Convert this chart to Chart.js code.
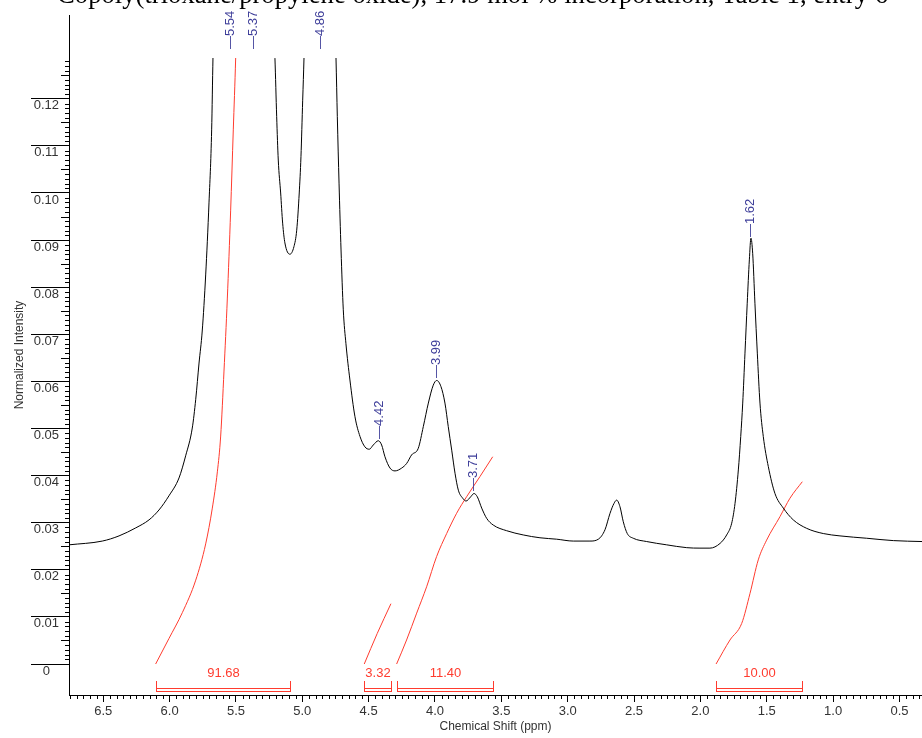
<!DOCTYPE html>
<html>
<head>
<meta charset="utf-8">
<script src="https://cdn.jsdelivr.net/npm/chart.js@4"></script>
<style>
  html, body { margin: 0; padding: 0; background: #fff; }
  #wrap { width: 922px; height: 738px; position: relative; }
</style>
</head>
<body>
<div id="wrap"><canvas id="nmr"></canvas></div>
<script>
// 1H spectrum: chemical shift (ppm) and normalized intensity
const shiftPpm = [
  6.758, 6.507, 6.381, 6.255, 6.155, 6.080, 6.005, 5.929, 5.879, 5.829,
  5.803, 5.778, 5.754, 5.728, 5.703, 5.683, 5.673, 5.650, 5.600, 5.540,
  5.450, 5.370, 5.300, 5.250, 5.206, 5.193, 5.181, 5.163, 5.148, 5.131,
  5.093, 5.063, 5.042, 5.023, 5.010, 4.997, 4.987, 4.950, 4.900, 4.860,
  4.820, 4.780, 4.746, 4.736, 4.723, 4.708, 4.691, 4.671, 4.641, 4.603,
  4.565, 4.528, 4.495, 4.465, 4.427, 4.402, 4.377, 4.339, 4.301, 4.251,
  4.213, 4.176, 4.126, 4.088, 4.050, 4.013, 3.987, 3.955, 3.925, 3.900,
  3.874, 3.849, 3.824, 3.791, 3.766, 3.731, 3.706, 3.681, 3.648, 3.610,
  3.561, 3.460, 3.335, 3.209, 3.083, 2.958, 2.832, 2.769, 2.719, 2.681,
  2.651, 2.631, 2.606, 2.581, 2.551, 2.506, 2.405, 2.254, 2.103, 2.003,
  1.928, 1.852, 1.802, 1.764, 1.739, 1.714, 1.696, 1.681, 1.664, 1.647,
  1.631, 1.619, 1.606, 1.589, 1.571, 1.551, 1.526, 1.488, 1.438, 1.375,
  1.300, 1.199, 1.074, 0.948, 0.747, 0.546, 0.330
];
const intensity = [
  0.0253, 0.0261, 0.0272, 0.0289, 0.0306, 0.0327, 0.0357, 0.0395, 0.0442, 0.0501,
  0.0562, 0.0639, 0.0707, 0.0826, 0.0979, 0.1134, 0.1287, 0.155, 0.230, 0.330,
  0.290, 0.305, 0.220, 0.160, 0.1286, 0.1162, 0.1070, 0.1000, 0.0936, 0.0894,
  0.0870, 0.0886, 0.0921, 0.1000, 0.1077, 0.1197, 0.1287, 0.170, 0.240, 0.270,
  0.230, 0.165, 0.1287, 0.1162, 0.1021, 0.0879, 0.0752, 0.0680, 0.0603, 0.0525,
  0.0483, 0.0461, 0.0456, 0.0465, 0.0474, 0.0465, 0.0440, 0.0416, 0.0410, 0.0416,
  0.0426, 0.0444, 0.0458, 0.0504, 0.0554, 0.0592, 0.0602, 0.0589, 0.0554, 0.0504,
  0.0454, 0.0405, 0.0369, 0.0352, 0.0346, 0.0355, 0.0362, 0.0355, 0.0331, 0.0309,
  0.0295, 0.0283, 0.0274, 0.0268, 0.0265, 0.0261, 0.0261, 0.0265, 0.0285, 0.0320,
  0.0341, 0.0348, 0.0334, 0.0302, 0.0277, 0.0267, 0.0260, 0.0253, 0.0247, 0.0246,
  0.0246, 0.0256, 0.0274, 0.0299, 0.0341, 0.0412, 0.0483, 0.0554, 0.0660, 0.0766,
  0.0858, 0.0904, 0.0872, 0.0766, 0.0660, 0.0554, 0.0483, 0.0419, 0.0362, 0.0331,
  0.0306, 0.0288, 0.0277, 0.0272, 0.0267, 0.0262, 0.0260
];

// integral curves (same y units as the spectrum)
const int1Ppm = [6.105, 6.005, 5.904, 5.803, 5.728, 5.678, 5.640, 5.615, 5.590, 5.565, 5.540, 5.520, 5.502, 5.450, 5.350, 5.200, 5.093];
const int1Val = [0, 0.0054, 0.0109, 0.0178, 0.0255, 0.0331, 0.0408, 0.0484, 0.0622, 0.0775, 0.0962, 0.1134, 0.1287, 0.190, 0.270, 0.330, 0.354];
const int2Ppm = [4.533, 4.435, 4.332];
const int2Val = [0, 0.0065, 0.0128];
const int3Ppm = [4.289, 4.214, 4.138, 4.063, 3.988, 3.912, 3.837, 3.762, 3.661, 3.565];
const int3Val = [0, 0.0051, 0.0108, 0.0164, 0.0228, 0.0277, 0.0320, 0.0355, 0.0398, 0.0440];
const int4Ppm = [1.882, 1.777, 1.689, 1.626, 1.564, 1.501, 1.400, 1.325, 1.232];
const int4Val = [0, 0.0051, 0.0086, 0.0150, 0.0221, 0.0263, 0.0313, 0.0352, 0.0387];

const integralRanges = [[6.105, 5.093], [4.533, 4.332], [4.289, 3.565], [1.882, 1.232]];
const integralLabels = ["91.68", "3.32", "11.40", "10.00"];

const peakPpm = [5.54, 5.37, 4.86, 4.42, 3.99, 3.71, 1.62];
const peakLabels = ["5.54", "5.37", "4.86", "4.42", "3.99", "3.71", "1.62"];

const xMajorTicks = [0.5, 1.0, 1.5, 2.0, 2.5, 3.0, 3.5, 4.0, 4.5, 5.0, 5.5, 6.0, 6.5];
const yMajorTicks = [0, 0.01, 0.02, 0.03, 0.04, 0.05, 0.06, 0.07, 0.08, 0.09, 0.10, 0.11, 0.12];

const titleText = "Copoly(trioxane/propylene oxide), 17.9 mol % incorporation, Table 1, entry 6";

const SANS = '"Liberation Sans", Arial, sans-serif';
const RED = "#ff3b2e";
const pts = (xs, ys) => xs.map((p, i) => ({ x: p, y: ys[i] }));
const clipTop = { left: 0, top: -43, right: 0, bottom: 0 };

// intensity at a shift, for placing the peak labels
function valueAt(p) {
  for (let i = 0; i < shiftPpm.length - 1; i++) {
    const a = shiftPpm[i], b = shiftPpm[i + 1];
    if (p <= a && p >= b) return intensity[i] + (intensity[i + 1] - intensity[i]) * (a - p) / (a - b);
  }
  return 0;
}

const extras = {
  id: "extras",
  afterDraw(chart) {
    const { ctx, chartArea: area, scales: { x, y } } = chart;
    ctx.save();

    // minor ticks
    ctx.strokeStyle = "#000";
    ctx.lineWidth = 1;
    ctx.beginPath();
    for (let i = 1; i <= 128; i++) {
      if (i % 10 === 0) continue;
      const len = i % 5 === 0 ? 8 : 4;
      const py = Math.round(y.getPixelForValue(i / 1000)) + 0.5;
      ctx.moveTo(area.left - len, py);
      ctx.lineTo(area.left, py);
    }
    for (let i = 7; i <= 135; i++) {
      if (i % 10 === 0) continue;
      const px = Math.round(x.getPixelForValue(i * 0.05)) + 0.5;
      ctx.moveTo(px, area.bottom);
      ctx.lineTo(px, area.bottom + 4);
    }
    ctx.stroke();

    // peak picks (clipped peaks get their label just above the clip line)
    ctx.font = "13px " + SANS;
    ctx.fillStyle = "#3d3d99";
    ctx.textAlign = "left";
    ctx.textBaseline = "middle";
    peakPpm.forEach((p, i) => {
      const px = x.getPixelForValue(p);
      const py = Math.max(y.getPixelForValue(valueAt(p)) - 3, 49);
      ctx.save();
      ctx.translate(px, py);
      ctx.rotate(-Math.PI / 2);
      ctx.fillText("\u2014" + peakLabels[i], 0, 0);
      ctx.restore();
    });

    // integral brackets
    const base = y.getPixelForValue(0);
    ctx.strokeStyle = RED;
    ctx.fillStyle = RED;
    ctx.textAlign = "center";
    ctx.textBaseline = "middle";
    integralRanges.forEach(([a0, a1], i) => {
      const x0 = Math.round(x.getPixelForValue(a0)) + 0.5;
      const x1 = Math.round(x.getPixelForValue(a1)) + 0.5;
      ctx.beginPath();
      ctx.moveTo(x0, base + 17); ctx.lineTo(x0, base + 28);
      ctx.moveTo(x1, base + 17); ctx.lineTo(x1, base + 28);
      ctx.moveTo(x0, base + 24.5); ctx.lineTo(x1, base + 24.5);
      ctx.moveTo(x0, base + 27.5); ctx.lineTo(x1, base + 27.5);
      ctx.stroke();
      ctx.fillText(integralLabels[i], (x0 + x1) / 2, base + 9);
    });

    // page title, cut by the top edge
    ctx.fillStyle = "#000";
    ctx.textBaseline = "alphabetic";
    ctx.font = '22px "Liberation Serif", "Times New Roman", serif';
    const w = ctx.measureText(titleText).width;
    ctx.font = (22 * 831 / w).toFixed(2) + 'px "Liberation Serif", "Times New Roman", serif';
    ctx.fillText(titleText, 472.5, 3);

    ctx.restore();
  }
};

new Chart(document.getElementById("nmr"), {
  type: "line",
  data: {
    datasets: [
      { data: pts(shiftPpm, intensity), borderColor: "#000", borderWidth: 1, pointRadius: 0, cubicInterpolationMode: "monotone", clip: clipTop },
      { data: pts(int1Ppm, int1Val), borderColor: RED, borderWidth: 1, pointRadius: 0, cubicInterpolationMode: "monotone", clip: clipTop },
      { data: pts(int2Ppm, int2Val), borderColor: RED, borderWidth: 1, pointRadius: 0, cubicInterpolationMode: "monotone", clip: clipTop },
      { data: pts(int3Ppm, int3Val), borderColor: RED, borderWidth: 1, pointRadius: 0, cubicInterpolationMode: "monotone", clip: clipTop },
      { data: pts(int4Ppm, int4Val), borderColor: RED, borderWidth: 1, pointRadius: 0, cubicInterpolationMode: "monotone", clip: clipTop }
    ]
  },
  options: {
    responsive: true,
    maintainAspectRatio: false,
    animation: false,
    layout: { padding: { top: 15, right: 0, bottom: 0, left: 0 } },
    plugins: { legend: { display: false }, tooltip: { enabled: false } },
    scales: {
      x: {
        type: "linear",
        reverse: true,
        min: 0.33,
        max: 6.758,
        afterBuildTicks: (s) => { s.ticks = xMajorTicks.map((v) => ({ value: v })); },
        afterFit: (s) => { s.height = 43; },
        grid: { drawOnChartArea: false, drawTicks: true, tickLength: 7, color: "#000" },
        border: { display: true, color: "#000", width: 1 },
        ticks: {
          color: "#333", font: { family: SANS, size: 13 }, padding: 2,
          maxRotation: 0, autoSkip: false, callback: (v) => Number(v).toFixed(1)
        },
        title: {
          display: true, text: "Chemical Shift (ppm)", color: "#333",
          font: { family: SANS, size: 12 }, padding: { top: 0, bottom: 4 }
        }
      },
      y: {
        min: -0.00658,
        max: 0.13779,
        afterBuildTicks: (s) => { s.ticks = yMajorTicks.map((v) => ({ value: v })); },
        afterFit: (s) => { s.width = 69; },
        grid: { drawOnChartArea: false, drawTicks: true, tickLength: 38, color: "#000" },
        border: { display: true, color: "#000", width: 1 },
        ticks: {
          color: "#333", font: { family: SANS, size: 13 }, crossAlign: "center",
          padding: -28, labelOffset: 7,
          callback: (v) => (v === 0 ? "0" : Number(v).toFixed(2))
        },
        title: {
          display: true, text: "Normalized Intensity", color: "#333",
          font: { family: SANS, size: 12 }, padding: { top: 12, bottom: 0 }
        }
      }
    }
  },
  plugins: [extras]
});
</script>
</body>
</html>
